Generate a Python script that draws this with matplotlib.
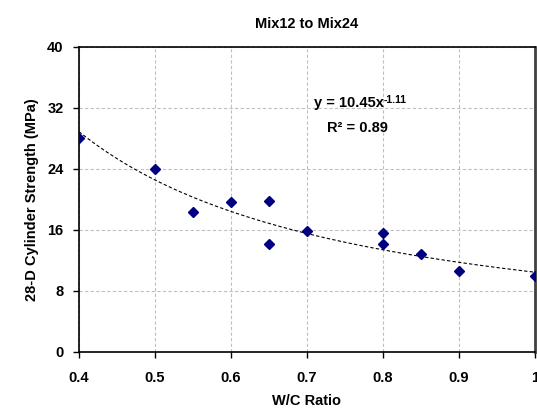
import numpy as np
import matplotlib.pyplot as plt

plt.rcParams['font.family'] = ['Liberation Sans', 'DejaVu Sans']
plt.rcParams['font.weight'] = 'bold'

# data
wc = [0.40, 0.50, 0.55, 0.60, 0.65, 0.65, 0.70, 0.80, 0.80, 0.85, 0.90, 1.00]
strength = [28.0, 24.0, 18.4, 19.7, 19.8, 14.1, 15.9, 15.6, 14.1, 12.8, 10.6, 10.0]
x_ticks = [0.4, 0.5, 0.6, 0.7, 0.8, 0.9, 1.0]
x_labels = ['0.4', '0.5', '0.6', '0.7', '0.8', '0.9', '1']
y_ticks = [0, 8, 16, 24, 32, 40]
fit_a, fit_b = 10.45, -1.11

fig = plt.figure(figsize=(5.37, 4.12), dpi=100)
ax = fig.add_axes([0.147, 0.146, 0.849, 0.74])

# power trend line
xs = np.linspace(0.4, 1.0, 200)
ax.plot(xs, fit_a * xs ** fit_b, color='black', ls=(0, (3, 2)), lw=0.8, zorder=2)
ax.plot(wc, strength, ls='none', marker='D', ms=5, color='#000080', zorder=3)

ax.set_xlim(0.4, 1.0)
ax.set_ylim(0, 40)
ax.set_xticks(x_ticks)
ax.set_xticklabels(x_labels)
ax.set_yticks(y_ticks)
ax.tick_params(direction='out', length=4, width=1, labelsize=10.5)
ax.tick_params(axis='x', pad=10)
ax.tick_params(axis='y', pad=7)
ax.grid(True, color='#c0c0c0', ls=(0, (3, 2)), lw=0.8)
for s in ax.spines.values():
    s.set_color('black')
    s.set_linewidth(1.2)
ax.spines['right'].set_color('#404040')
ax.spines['right'].set_linewidth(2)

ax.set_xlabel('W/C Ratio', fontsize=10.5, fontweight='bold', labelpad=6)
ax.set_ylabel('28-D Cylinder Strength (MPa)', fontsize=10.5, fontweight='bold', labelpad=6)
ax.set_title('Mix12 to Mix24', fontsize=10.5, fontweight='bold', pad=14)

eq = ax.text(0.755, 32.6, 'y = 10.45x', ha='center', va='center',
             fontsize=10.5, fontweight='bold')
ax.annotate('-1.11', xy=(1.0, 1.0), xycoords=eq, xytext=(0, 1),
            textcoords='offset points', ha='left', va='top',
            fontsize=7.5, fontweight='bold')
ax.text(0.767, 29.4, 'R² = 0.89', ha='center', va='center', fontsize=10.5, fontweight='bold')

fig.savefig('out.png', dpi=100)
